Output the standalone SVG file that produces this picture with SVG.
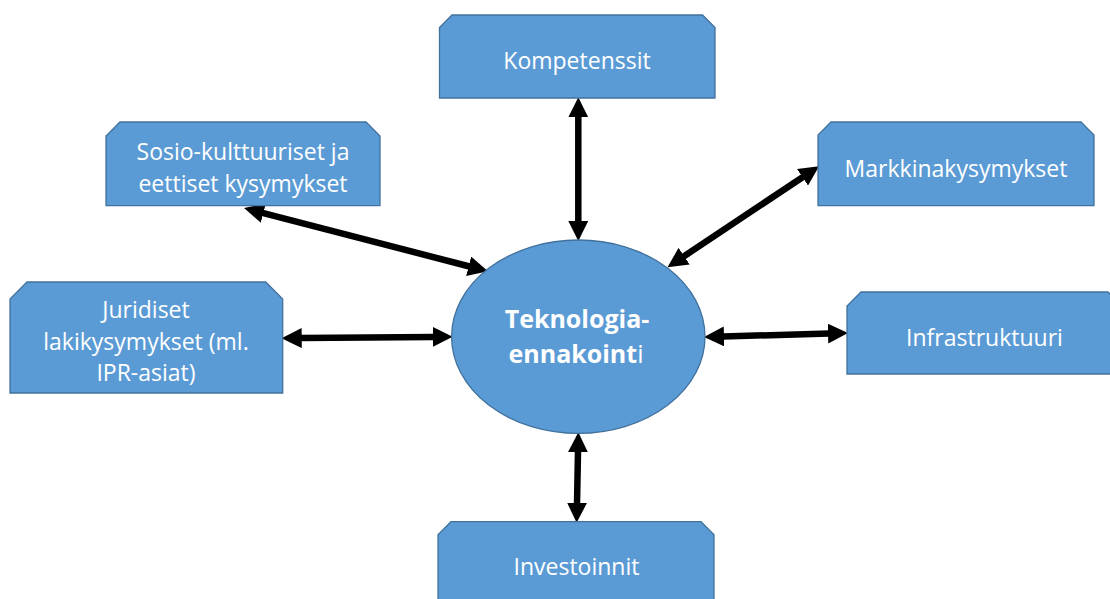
<svg xmlns="http://www.w3.org/2000/svg" width="1110" height="599" viewBox="0 0 1110 599">
  <style>
    .node { fill: #5B9BD5; stroke: #41719C; stroke-width: 1.3; }
    .label { fill: #FFFFFF; font-family: "Open Sans", "Noto Sans", "Liberation Sans", sans-serif; font-size: 23px; text-anchor: middle; }
    .hub { font-size: 25px; font-weight: bold; }
    .link { stroke: #000000; stroke-width: 6.5; fill: none; marker-start: url(#head); marker-end: url(#head); }
  </style>
  <defs>
    <!-- arrowhead sits beyond the line end, so the shaft stops at its base -->
    <marker id="head" markerUnits="userSpaceOnUse" viewBox="0 -10 20 20" refX="1" refY="0" markerWidth="20" markerHeight="20" orient="auto-start-reverse">
      <path d="M0,-10 L20,0 L0,10 Z" fill="#000000"/>
    </marker>
  </defs>

  <rect width="1110" height="599" fill="#FFFFFF"/>

  <!-- connectors -->
  <g id="connectors">
    <line class="link" x1="578.3" y1="116.3" x2="578.3" y2="222"/>
    <line class="link" x1="262.4" y1="212.8" x2="469.6" y2="266.5"/>
    <line class="link" x1="803.3" y1="176.7" x2="683.3" y2="256.7"/>
    <line class="link" x1="300.7" y1="338.1" x2="433.7" y2="336.9"/>
    <line class="link" x1="723" y1="336.5" x2="829" y2="333.5"/>
    <line class="link" x1="578" y1="451.3" x2="577" y2="503.7"/>
  </g>

  <!-- central topic -->
  <g id="teknologiaennakointi">
    <ellipse class="node" cx="578.3" cy="336.7" rx="126.7" ry="96.7"/>
    <text class="label hub" x="577" y="328">Teknologia-</text>
    <text class="label hub" x="576" y="363">ennakoint<tspan font-weight="normal">i</tspan></text>
  </g>

  <!-- surrounding topics: boxes with snipped top corners -->
  <g id="kompetenssit">
    <path class="node" d="M452,15 L702.5,15 L715,27.5 L715,98 L439.5,98 L439.5,27.5 Z"/>
    <text class="label" x="577" y="69.3">Kompetenssit</text>
  </g>

  <g id="sosiokulttuuriset">
    <path class="node" d="M120,122 L366,122 L380,136 L380,205.7 L106,205.7 L106,136 Z"/>
    <text class="label" x="243" y="160">Sosio-kulttuuriset ja</text>
    <text class="label" x="243" y="191.7">eettiset kysymykset</text>
  </g>

  <g id="markkinakysymykset">
    <path class="node" d="M831,122 L1081,122 L1094,135 L1094,205.7 L818,205.7 L818,135 Z"/>
    <text class="label" x="956" y="176.7">Markkinakysymykset</text>
  </g>

  <g id="juridiset">
    <path class="node" d="M27,282 L265.7,282 L282.7,299 L282.7,393 L10,393 L10,299 Z"/>
    <text class="label" x="146" y="318.3">Juridiset</text>
    <text class="label" x="146" y="350">lakikysymykset (ml.</text>
    <text class="label" x="146" y="381">IPR-asiat)</text>
  </g>

  <g id="infrastruktuuri">
    <path class="node" d="M861,292 L1108,292 L1122,306 L1122,374 L847,374 L847,306 Z"/>
    <text class="label" x="984.5" y="346">Infrastruktuuri</text>
  </g>

  <g id="investoinnit">
    <path class="node" d="M451,521.7 L701,521.7 L714,534.7 L714,640 L438,640 L438,534.7 Z"/>
    <text class="label" x="576.5" y="575">Investoinnit</text>
  </g>
</svg>
